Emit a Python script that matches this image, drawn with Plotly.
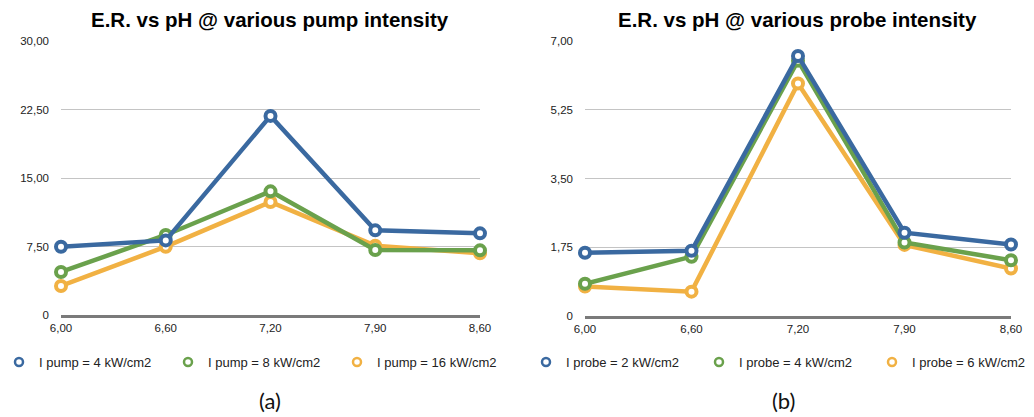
import plotly.graph_objects as go

# pH values shown on the category axis
ph_labels = ["6,00", "6,60", "7,20", "7,90", "8,60"]

# Extinction ratio vs pH at different pump intensities
pump_4 = [7.48, 8.17, 21.8, 9.27, 8.94]
pump_8 = [4.71, 8.76, 13.54, 7.12, 7.08]
pump_16 = [3.18, 7.48, 12.37, 7.59, 6.75]
pump_names = ["I pump = 4 kW/cm2", "I pump = 8 kW/cm2", "I pump = 16 kW/cm2"]

# Extinction ratio vs pH at different probe intensities
probe_2 = [1.61, 1.66, 6.62, 2.12, 1.82]
probe_4 = [0.82, 1.51, 6.50, 1.87, 1.42]
probe_6 = [0.75, 0.62, 5.92, 1.81, 1.21]
probe_names = ["I probe = 2 kW/cm2", "I probe = 4 kW/cm2", "I probe = 6 kW/cm2"]

left_ticks = [0, 7.5, 15, 22.5, 30]
left_ticktext = ["0", "7,50", "15,00", "22,50", "30,00"]
right_ticks = [0, 1.75, 3.5, 5.25, 7]
right_ticktext = ["0", "1,75", "3,50", "5,25", "7,00"]

colors = ["#3a69a0", "#6aa14c", "#f1b143"]

W, H = 1034, 417
def px_x(p):
    return p / W
def px_y(p):
    return 1 - p / H

fig = go.Figure()
xs = list(range(len(ph_labels)))

panels = [
    ([pump_4, pump_8, pump_16], pump_names, "x", "y", "legend"),
    ([probe_2, probe_4, probe_6], probe_names, "x2", "y2", "legend2"),
]

for series, names, xa, ya, leg in panels:
    # lowest-intensity series drawn last so it sits on top
    for vals, nm, c in reversed(list(zip(series, names, colors))):
        fig.add_trace(go.Scatter(
            x=xs, y=vals, mode="lines+markers", name=nm,
            xaxis=xa, yaxis=ya, showlegend=False, cliponaxis=False,
            line=dict(color=c, width=4.5),
            marker=dict(size=10, color="white", line=dict(color=c, width=4)),
        ))
    # legend entries: marker only
    for nm, c in zip(names, colors):
        fig.add_trace(go.Scatter(
            x=[None], y=[None], mode="markers", name=nm,
            xaxis=xa, yaxis=ya, legend=leg,
            marker=dict(size=8, color="white", line=dict(color=c, width=2.5)),
        ))

tick_font = dict(family="Liberation Sans, Arial, sans-serif", size=11.5, color="#222")
xcommon = dict(range=[0, 4], tickmode="array", tickvals=xs, ticktext=ph_labels,
               showgrid=False, zeroline=False, showline=True, linecolor="#7a7a7a",
               linewidth=2.5, ticks="", tickfont=tick_font, automargin=False,
               fixedrange=True)
ycommon = dict(showgrid=True, gridcolor="#c4c4c4", gridwidth=1, zeroline=False,
               showline=False, ticks="", tickfont=tick_font, automargin=False,
               fixedrange=True, ticklabelstandoff=11)

legend_font = dict(family="Liberation Sans, Arial, sans-serif", size=13, color="#222")

fig.update_layout(
    width=W, height=H,
    margin=dict(l=0, r=0, t=0, b=0, autoexpand=False),
    paper_bgcolor="white", plot_bgcolor="white",
    xaxis=dict(domain=[px_x(61), px_x(480)], anchor="y", **xcommon),
    yaxis=dict(domain=[px_y(315), px_y(41)], anchor="x", range=[0, 30],
               tickmode="array", tickvals=left_ticks, ticktext=left_ticktext, **ycommon),
    xaxis2=dict(domain=[px_x(585), px_x(1011)], anchor="y2", **xcommon),
    yaxis2=dict(domain=[px_y(316), px_y(41)], anchor="x2", range=[0, 7],
                tickmode="array", tickvals=right_ticks, ticktext=right_ticktext, **ycommon),
    legend=dict(orientation="h", x=px_x(-1), y=px_y(347), xanchor="left", yanchor="top",
                entrywidth=124, entrywidthmode="pixels", itemwidth=30,
                font=legend_font, bgcolor="rgba(0,0,0,0)"),
    legend2=dict(orientation="h", x=px_x(526), y=px_y(347), xanchor="left", yanchor="top",
                 entrywidth=128, entrywidthmode="pixels", itemwidth=30,
                 font=legend_font, bgcolor="rgba(0,0,0,0)"),
)

title_font = dict(family="Liberation Sans, Arial, sans-serif", size=20.5, color="#000")
fig.add_annotation(text="<b>E.R. vs pH @ various pump intensity</b>", x=px_x(270), y=px_y(19),
                   xref="paper", yref="paper", showarrow=False, font=title_font,
                   xanchor="center", yanchor="middle")
fig.add_annotation(text="<b>E.R. vs pH @ various probe intensity</b>", x=px_x(797), y=px_y(19),
                   xref="paper", yref="paper", showarrow=False, font=title_font,
                   xanchor="center", yanchor="middle")

cap_font = dict(family="Lato, Open Sans, sans-serif", size=22, color="#111")
fig.add_annotation(text="(a)", x=px_x(270), y=px_y(400), xref="paper", yref="paper",
                   showarrow=False, font=cap_font, xanchor="center", yanchor="middle")
fig.add_annotation(text="(b)", x=px_x(783), y=px_y(400), xref="paper", yref="paper",
                   showarrow=False, font=cap_font, xanchor="center", yanchor="middle")

fig.write_html("out.html", config={"displayModeBar": False})
